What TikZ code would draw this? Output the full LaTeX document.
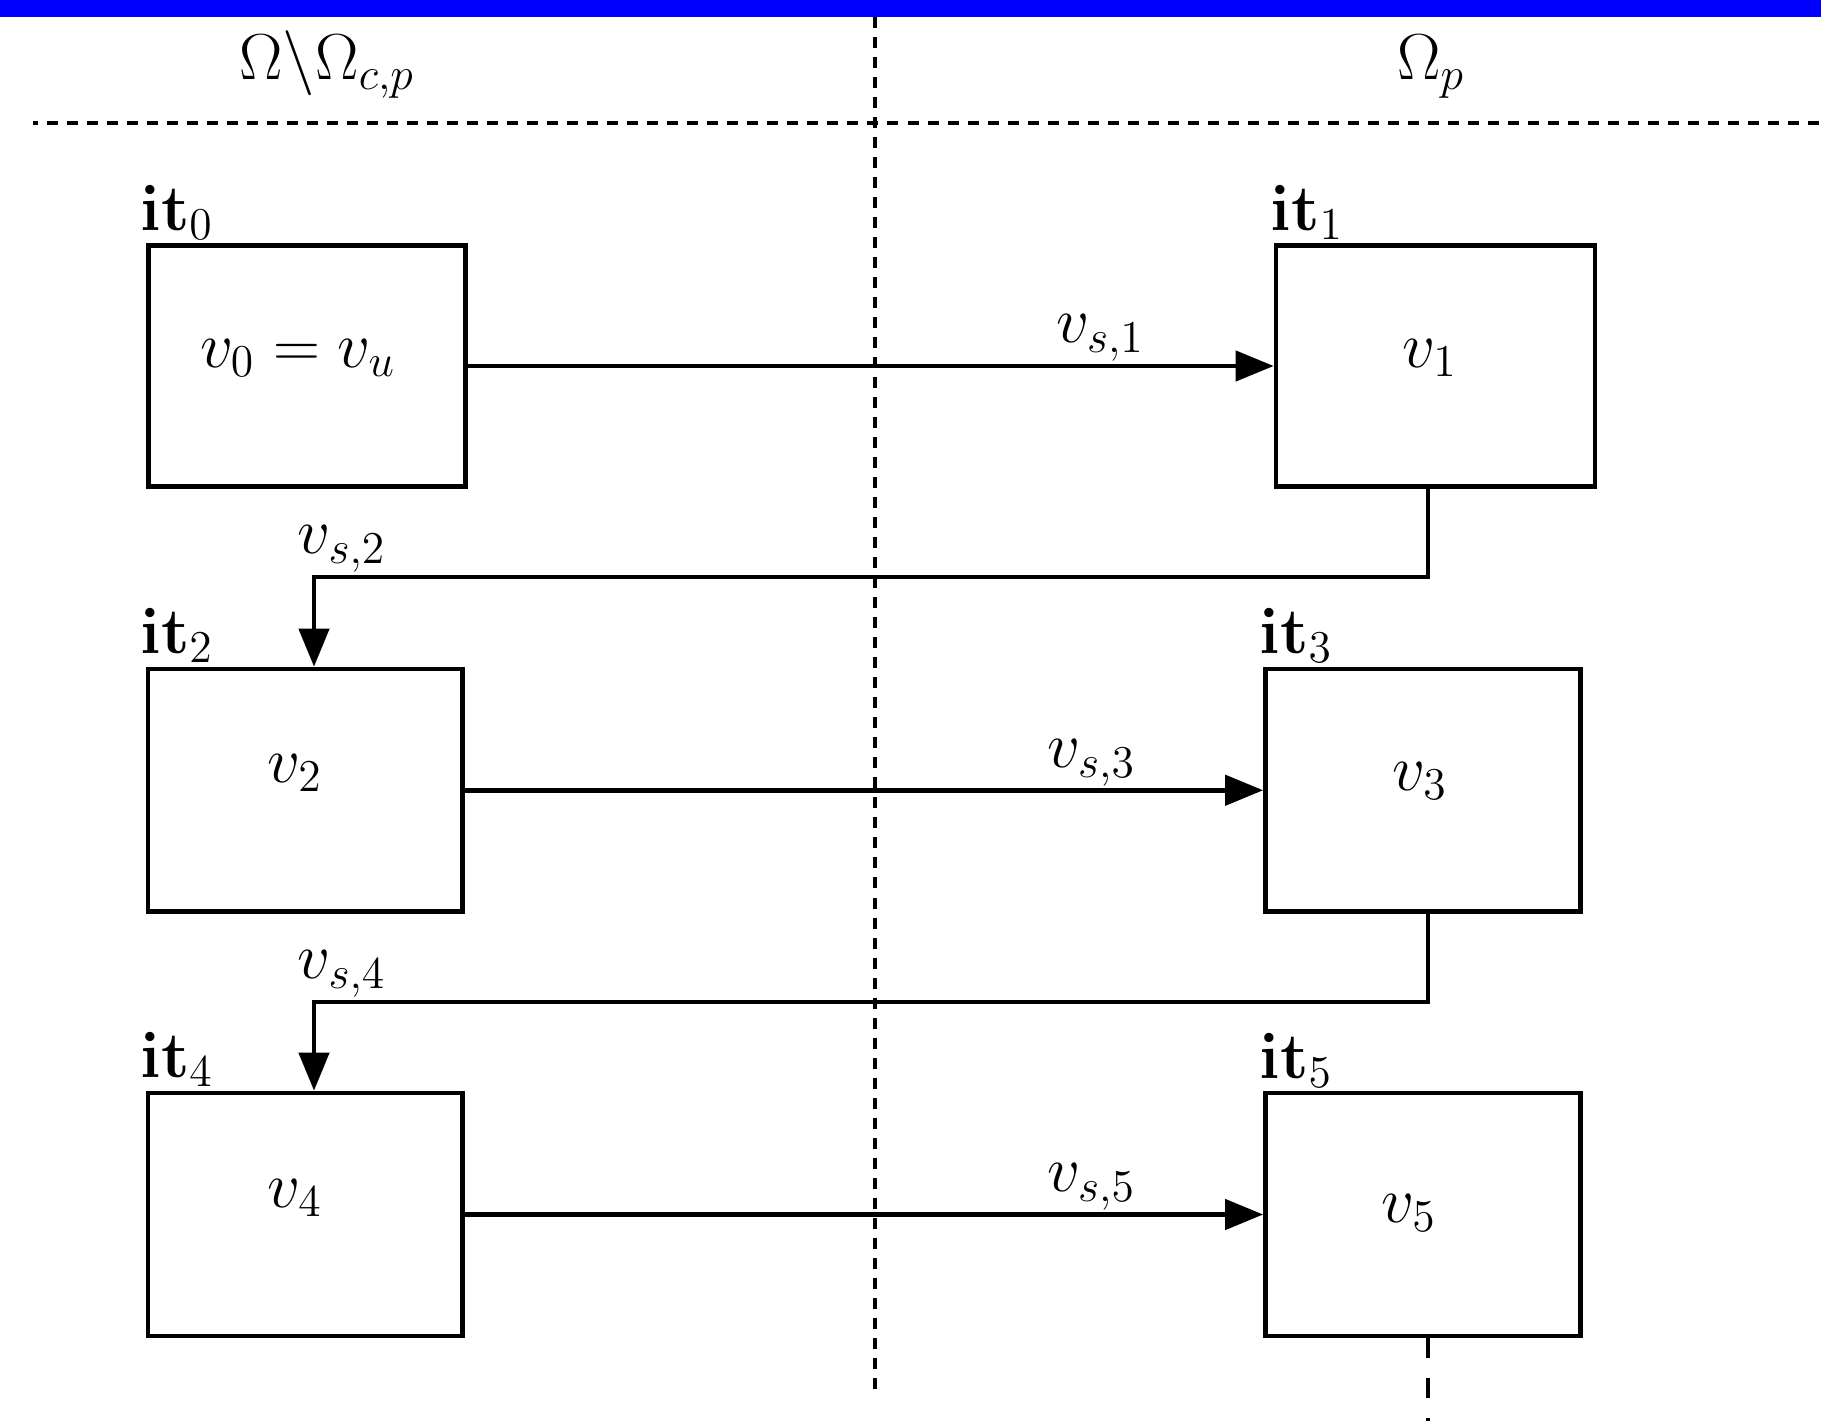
\RequirePackage{fix-cm}
\documentclass[tikz,border=0pt]{standalone}
\usetikzlibrary{arrows.meta}
\tikzset{
  every node/.style={font=\fontsize{18.5}{22}\selectfont},
  blk/.style={draw, rectangle, line width=0.045cm, inner sep=0pt},
  conn/.style={line width=0.045cm, -{Triangle[length=0.38cm,width=0.30cm]}},
  elab/.style={anchor=base, yshift=0.23cm, inner sep=0pt},
  itlab/.style={anchor=base west, inner sep=0pt},
  vlab/.style={anchor=base, inner sep=0pt},
  sep/.style={line width=0.048cm}
}
\begin{document}
\begin{tikzpicture}[x=0.01cm, y=-0.01cm]
\useasboundingbox (0,0) rectangle (1821,1421);
% top bar
\fill[blue] (0,0) rectangle (1821,17);
% separators
\draw[sep, dash pattern=on 0.11cm off 0.09cm, dash phase=0.06cm] (33,123) -- (1821,123);
\draw[sep, dash pattern=on 0.11cm off 0.09cm] (875,17) -- (875,1397);
% region titles
\node[vlab] (r1) at (327,80) {$\Omega\backslash\Omega_{c,p}$};
\node[vlab] (r2) at (1431,80) {$\Omega_p$};
% boxes
\node[blk, minimum width=3.17cm, minimum height=2.41cm] (b0) at (307,366) {};
\node[blk, minimum width=3.19cm, minimum height=2.41cm] (b1) at (1435.5,366) {};
\node[blk, minimum width=3.145cm, minimum height=2.425cm] (b2) at (305.25,790.25) {};
\node[blk, minimum width=3.15cm, minimum height=2.425cm] (b3) at (1423,790.25) {};
\node[blk, minimum width=3.145cm, minimum height=2.43cm] (b4) at (305.25,1214.5) {};
\node[blk, minimum width=3.15cm, minimum height=2.43cm] (b5) at (1423,1214.5) {};
% box contents
\node[vlab] (t0) at (298,367) {$v_0 = v_u$};
\node[vlab] (t1) at (1430,367) {$v_1$};
\node[vlab] (t2) at (295,782) {$v_2$};
\node[vlab] (t3) at (1420,790) {$v_3$};
\node[vlab] (t4) at (295,1207) {$v_4$};
\node[vlab] (t5) at (1409,1222) {$v_5$};
% iteration labels
\node[itlab] (i0) at (140,230) {$\mathbf{it}_0$};
\node[itlab] (i1) at (1270,230) {$\mathbf{it}_1$};
\node[itlab] (i2) at (140,653) {$\mathbf{it}_2$};
\node[itlab] (i3) at (1259,653) {$\mathbf{it}_3$};
\node[itlab] (i4) at (140,1077) {$\mathbf{it}_4$};
\node[itlab] (i5) at (1259,1078) {$\mathbf{it}_5$};
% turn points
\coordinate (k1a) at (1428,577);
\coordinate (k1b) at (314,577);
\coordinate (k3a) at (1428,1002);
\coordinate (k3b) at (314,1002);
\coordinate (k5) at (1428,1421);
% connectors
\draw[conn] (b0.east) -- node[elab, pos=0.785] (e1) {$v_{s,1}$} (b1.west);
\draw[conn] (b1.south -| k1a) -- (k1a) -- node[elab, pos=0.975] (e2) {$v_{s,2}$} (k1b) -- (b2.north -| k1b);
\draw[conn] (b2.east) -- node[elab, pos=0.785] (e3) {$v_{s,3}$} (b3.west);
\draw[conn] (b3.south -| k3a) -- (k3a) -- node[elab, pos=0.975] (e4) {$v_{s,4}$} (k3b) -- (b4.north -| k3b);
\draw[conn] (b4.east) -- node[elab, pos=0.785] (e5) {$v_{s,5}$} (b5.west);
\draw[sep, dash pattern=on 0.2cm off 0.2cm] (b5.south -| k5) -- (k5);
\end{tikzpicture}
\end{document}
